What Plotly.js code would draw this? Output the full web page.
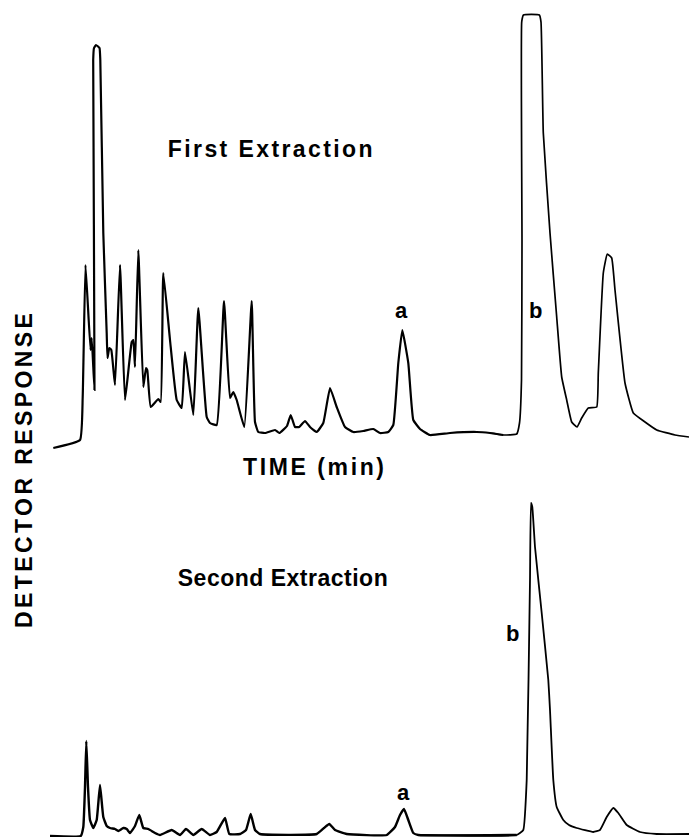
<!DOCTYPE html>
<html>
<head>
<meta charset="utf-8">
<script src="https://cdn.plot.ly/plotly-3.0.1.min.js"></script>
<style>
  html, body { margin: 0; padding: 0; background: #ffffff; }
  #chart { width: 689px; height: 837px; }
  g.annotation[data-index="0"] text { letter-spacing: 2.4px; }
  g.annotation[data-index="1"] text { letter-spacing: 2.6px; }
  g.annotation[data-index="2"] text { letter-spacing: 0.5px; }
  g.annotation[data-index="3"] text { letter-spacing: 3.4px; }
</style>
</head>
<body>
<div id="chart"></div>
<script>
// First extraction chromatogram: time (min) and detector response (arbitrary units)
const timeFirst = [5.33, 8.0, 8.27, 8.55, 9.05, 9.17, 9.45, 9.32, 9.40, 9.60, 9.95, 10.03, 10.33, 10.67, 10.75, 10.93, 11.13, 11.5, 12.0, 12.5,
  13.17, 13.33, 13.5, 13.83, 14.33, 14.6, 14.73, 15.07, 15.83, 16.07, 16.33, 17.0, 17.67, 18.17, 18.5, 19.33, 19.83, 20.67, 21.0, 21.67,
  22.4, 23.0, 23.33, 23.67, 24.43, 25.17, 25.5, 25.83, 26.5, 27.5, 27.93, 28.7, 29.07, 29.5, 29.93, 30.5, 31.0, 31.67, 32.33, 33.0,
  33.67, 34.5, 35.33, 36.33, 37.33, 38.0, 38.83, 39.33, 39.83, 40.23, 40.83, 41.33, 42.0, 43.0, 45.0, 47.67, 49.0, 50.33, 51.67, 51.95,
  52.15, 52.2, 52.17, 52.35, 53.93, 54.1, 54.33, 55.0, 55.67, 56.17, 56.67, 57.17, 57.7, 58.17, 58.83, 59.67, 59.83, 60.33, 60.73, 61.17,
  61.5, 62.5, 63.33, 64.5, 65.67, 67.5, 68.9];
const respFirst = [-12, -4, 39, 171, 86, 98, 46, 376, 388, 391, 388, 376, 203, 103, 78, 88, 86, 51, 171, 36,
  94, 96, 69, 186, 49, 68, 66, 29, 37, 34, 163, 96, 36, 28, 84, 21, 128, 19, 13, 11,
  135, 38, 44, 36, 9, 135, 14, 4, 3, 6, 3, 10, 21, 9, 9, 15, 9, 4, 13, 48,
  29, 9, 4, 5, 7, 3, 4, 11, 73, 106, 73, 16, 7, 1, 3, 4, 3, 1, 2, 13,
  56, 196, 414, 421, 421, 414, 303, 203, 119, 59, 36, 14, 9, 18, 28, 29, 63, 163, 182, 178,
  146, 53, 23, 14, 6, 1, -1];

// Second extraction chromatogram
const timeSecond = [5.0, 8.07, 8.33, 8.5, 8.63, 8.8, 9.0, 9.33, 9.67, 10.0, 10.33, 10.67, 11.0, 11.5, 11.83, 12.33, 12.67, 13.0, 13.5, 13.93,
  14.33, 14.83, 15.5, 16.0, 17.17, 18.0, 18.6, 19.33, 20.17, 21.0, 21.67, 22.5, 22.93, 24.0, 24.6, 25.07, 25.5, 26.0, 31.67, 32.4,
  32.93, 33.5, 34.67, 38.67, 39.5, 40.0, 40.4, 40.83, 41.33, 41.83, 51.67, 52.33, 52.67, 53.0, 53.1, 53.23, 53.5, 54.17, 54.83, 55.0,
  55.33, 55.67, 56.33, 56.9, 57.67, 59.33, 60.0, 60.67, 61.33, 61.83, 62.67, 64.0, 65.67, 68.9];
const respSecond = [-1, -1, 8, 48, 94, 48, 15, 7, 15, 50, 18, 9, 7, 6, 4, 7, 6, 2, 9, 20,
  7, 6, 2, 0, 5, 0, 6, 0, 6, 0, 3, 17, 1, 1, 5, 21, 5, 1, 1, 7,
  11, 5, 1, 0, 8, 20, 26, 15, 2, 0, 0, 5, 55, 255, 332, 328, 288, 222, 155, 125,
  55, 28, 15, 10, 7, 3, 5, 18, 27, 22, 10, 3, 1, 1];

// Text labels
const panelTitles = ["First Extraction", "Second Extraction"];
const peakLabels = ["a", "b"];
const xAxisLabel = "TIME (min)";
const yAxisLabel = "DETECTOR RESPONSE";

const W = 689, H = 837;
const px = v => v / W;
const py = v => 1 - v / H;
const font = { family: "Liberation Sans, Arial, sans-serif", size: 23, color: "#000000" };
const peakFont = { family: "Liberation Sans, Arial, sans-serif", size: 22, color: "#000000" };

// split each chromatogram: early cluster drawn with heavier pen than the late peaks
const splitAt = 50;
function part(xs, ys, early) {
  const xo = [], yo = [];
  for (let i = 0; i < xs.length; i++) {
    const keep = early ? (xs[i] <= splitAt || (i > 0 && xs[i - 1] <= splitAt))
                       : (xs[i] > splitAt || (i + 1 < xs.length && xs[i + 1] > splitAt));
    if (keep) { xo.push(xs[i]); yo.push(ys[i]); }
  }
  return [xo, yo];
}
function tr(xs, ys, axis, width) {
  return { x: xs, y: ys, type: "scatter", mode: "lines", xaxis: "x", yaxis: axis,
    line: { color: "#000000", width: width, shape: "spline", smoothing: 0.35 }, hoverinfo: "skip" };
}
const f1 = part(timeFirst, respFirst, true), f2 = part(timeFirst, respFirst, false);
const s1 = part(timeSecond, respSecond, true), s2 = part(timeSecond, respSecond, false);
const traces = [
  tr(f1[0], f1[1], "y", 2.2), tr(f2[0], f2[1], "y", 1.7),
  tr(s1[0], s1[1], "y2", 2.4), tr(s2[0], s2[1], "y2", 1.8)
];

function ann(text, x, y, extra) {
  return Object.assign({ text: "<b>" + text + "</b>", xref: "paper", yref: "paper", x: px(x), y: py(y),
    xanchor: "center", yanchor: "middle", showarrow: false, font: font }, extra || {});
}

const layout = {
  width: W, height: H,
  margin: { l: 0, r: 0, t: 0, b: 0, pad: 0 },
  paper_bgcolor: "#ffffff", plot_bgcolor: "#ffffff",
  showlegend: false,
  xaxis: { range: [0, 68.9], visible: false, fixedrange: true },
  yaxis: { range: [-401, 436], visible: false, fixedrange: true },
  yaxis2: { range: [-2, 835], visible: false, overlaying: "y", fixedrange: true },
  annotations: [
    ann(panelTitles[0], 271, 149),
    ann(xAxisLabel, 315, 467),
    ann(panelTitles[1], 283, 578),
    ann(yAxisLabel, 24, 469, { textangle: -90 }),
    ann(peakLabels[0], 401, 310, { font: peakFont }),
    ann(peakLabels[1], 535, 310, { font: peakFont }),
    ann(peakLabels[0], 404, 792, { font: peakFont }),
    ann(peakLabels[1], 512, 633, { font: peakFont })
  ]
};

Plotly.newPlot("chart", traces, layout, { staticPlot: true, displayModeBar: false });
</script>
</body>
</html>
